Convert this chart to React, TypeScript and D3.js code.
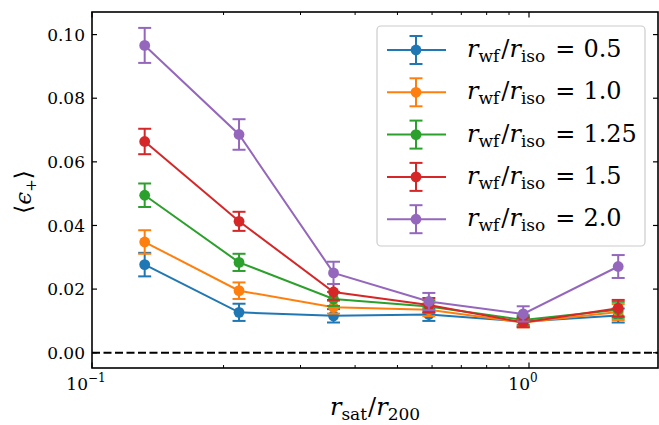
import React from "react";
import * as d3 from "d3";

const xVals = [0.132, 0.217, 0.357, 0.59, 0.97, 1.6];
const seriesLabels = ["0.5", "1.0", "1.25", "1.5", "2.0"];
const colors = ["#1f77b4", "#ff7f0e", "#2ca02c", "#d62728", "#9467bd"];
const vals05 = [0.0277, 0.0127, 0.0116, 0.012, 0.0098, 0.0117];
const err05 = [0.0037, 0.0027, 0.0021, 0.002, 0.0015, 0.0022];
const vals10 = [0.0348, 0.0195, 0.0143, 0.0135, 0.0095, 0.0128];
const err10 = [0.0037, 0.0026, 0.002, 0.002, 0.0015, 0.0025];
const vals125 = [0.0495, 0.0284, 0.0169, 0.0145, 0.0103, 0.0135];
const err125 = [0.0037, 0.0027, 0.0022, 0.002, 0.0015, 0.0025];
const vals15 = [0.0664, 0.0413, 0.0191, 0.015, 0.0095, 0.014];
const err15 = [0.004, 0.003, 0.0025, 0.0022, 0.0015, 0.0026];
const vals20 = [0.0966, 0.0686, 0.0251, 0.0161, 0.0122, 0.0271];
const err20 = [0.0055, 0.0048, 0.0035, 0.0027, 0.0024, 0.0036];
const allVals = [vals05, vals10, vals125, vals15, vals20];
const allErr = [err05, err10, err125, err15, err20];
const yTicks = [0, 0.02, 0.04, 0.06, 0.08, 0.1];
const xMajor = [0.1, 1];
const xMinor = [0.2, 0.3, 0.4, 0.5, 0.6, 0.7, 0.8, 0.9];

const W = 659, H = 425;
const L = 92, R = 658, T = 12, B = 368;
const FONT = "DejaVu Serif";

export default function App() {
  const x = d3.scaleLog().domain([0.1, Math.pow(10, (R - L) / 437 - 1)]).range([L, R]);
  const y = d3.scaleLinear().domain([-0.0048, 0.1071]).range([B, T]);
  const line = d3.line<number>().x((_, i) => x(xVals[i])).y((d) => y(d));
  const cap = 6.5;

  const legX = 377, legY = 26, legW = 268, legH = 220;
  const rowY = (i: number) => 50 + i * 42.3;

  return (
    <svg width={W} height={H} style={{ position: "absolute", left: 0, top: 0, background: "#fff", fontFamily: FONT }}>
      <rect x={0} y={0} width={W} height={H} fill="#fff" />
      <line x1={L} x2={R} y1={y(0)} y2={y(0)} stroke="#000" strokeWidth={2} strokeDasharray="8,3.5" />
      {allVals.map((vals, s) => (
        <g key={s}>
          {vals.map((v, i) => {
            const e = allErr[s][i];
            const cx = x(xVals[i]);
            return (
              <g key={i} stroke={colors[s]} strokeWidth={2}>
                <line x1={cx} x2={cx} y1={y(v - e)} y2={y(v + e)} />
                <line x1={cx - cap} x2={cx + cap} y1={y(v - e)} y2={y(v - e)} />
                <line x1={cx - cap} x2={cx + cap} y1={y(v + e)} y2={y(v + e)} />
              </g>
            );
          })}
          <path d={line(vals) || ""} fill="none" stroke={colors[s]} strokeWidth={2} />
          {vals.map((v, i) => (
            <circle key={i} cx={x(xVals[i])} cy={y(v)} r={5.4} fill={colors[s]} />
          ))}
        </g>
      ))}
      <rect x={L} y={T} width={R - L} height={B - T} fill="none" stroke="#000" strokeWidth={1.6} />
      {yTicks.map((t) => (
        <g key={t}>
          <line x1={L} x2={L + 5} y1={y(t)} y2={y(t)} stroke="#000" strokeWidth={1.2} />
          <line x1={R} x2={R - 5} y1={y(t)} y2={y(t)} stroke="#000" strokeWidth={1.2} />
          <text x={85} y={y(t)} dy="0.36em" textAnchor="end" fontSize={17}>
            {t.toFixed(2)}
          </text>
        </g>
      ))}
      {xMajor.map((t) => (
        <g key={t}>
          <line x1={x(t)} x2={x(t)} y1={B} y2={B - 5.5} stroke="#000" strokeWidth={1.2} />
          <line x1={x(t)} x2={x(t)} y1={T} y2={T + 5.5} stroke="#000" strokeWidth={1.2} />
          <text x={x(t) - 6} y={390} textAnchor="middle" fontSize={17}>
            10
            <tspan dy={-8} fontSize={12}>{t === 1 ? "0" : "\u22121"}</tspan>
          </text>
        </g>
      ))}
      {xMinor.map((t) => (
        <g key={t}>
          <line x1={x(t)} x2={x(t)} y1={B} y2={B - 3} stroke="#000" strokeWidth={1} />
          <line x1={x(t)} x2={x(t)} y1={T} y2={T + 3} stroke="#000" strokeWidth={1} />
        </g>
      ))}
      <text x={375} y={415} textAnchor="middle" fontSize={24}>
        <tspan fontStyle="italic">r</tspan>
        <tspan fontSize={17} dy={5}>sat</tspan>
        <tspan dy={-5} dx={1}>/</tspan>
        <tspan fontStyle="italic">r</tspan>
        <tspan fontSize={17} dy={5}>200</tspan>
      </text>
      <text transform={`translate(31,${192}) rotate(-90)`} textAnchor="middle" fontSize={23}>
        <tspan>⟨</tspan>
        <tspan fontStyle="italic">ϵ</tspan>
        <tspan fontSize={15} dy={5}>+</tspan>
        <tspan dy={-5}>⟩</tspan>
      </text>
      <rect x={legX} y={legY} width={legW} height={legH} rx={4} fill="#fff" fillOpacity={0.8} stroke="#cccccc" strokeWidth={1.2} />
      {seriesLabels.map((lab, i) => {
        const cy = rowY(i);
        return (
          <g key={lab}>
            <g stroke={colors[i]} strokeWidth={2}>
              <line x1={387} x2={446} y1={cy} y2={cy} />
              <line x1={416} x2={416} y1={cy - 14} y2={cy + 14} />
              <line x1={416 - cap} x2={416 + cap} y1={cy - 14} y2={cy - 14} />
              <line x1={416 - cap} x2={416 + cap} y1={cy + 14} y2={cy + 14} />
            </g>
            <circle cx={416} cy={cy} r={5.4} fill={colors[i]} />
            <text x={467} y={cy + 7} fontSize={24}>
              <tspan fontStyle="italic">r</tspan>
              <tspan fontSize={17} dy={5}>wf</tspan>
              <tspan dy={-5} dx={2}>/</tspan>
              <tspan fontStyle="italic">r</tspan>
              <tspan fontSize={17} dy={5}>iso</tspan>
              <tspan dy={-5} dx={10}>=</tspan>
              <tspan dx={8}>{lab}</tspan>
            </text>
          </g>
        );
      })}
    </svg>
  );
}
